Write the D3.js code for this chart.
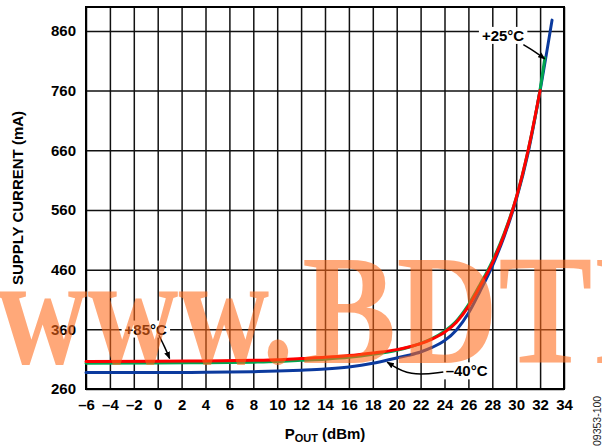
<!DOCTYPE html>
<html>
<head>
<meta charset="utf-8">
<script src="https://cdn.jsdelivr.net/npm/d3@7"></script>
<style>
  body { margin: 0; background: #fff; }
  svg { display: block; font-family: "Liberation Sans", Arial, sans-serif; }
</style>
</head>
<body>
<div class="chart"></div>
<script>
// x ticks (dBm) and y ticks (mA)
const xTicks = [-6, -4, -2, 0, 2, 4, 6, 8, 10, 12, 14, 16, 18, 20, 22, 24, 26, 28, 30, 32, 34];
const yTicks = [260, 360, 460, 560, 660, 760, 860];

// -40°C
const poutM40 = [-6, 0, 4, 8, 10, 12, 14, 16, 18, 20, 21, 22, 23, 24, 25, 26, 27, 28, 29, 30, 31, 32, 33];
const currM40 = [287.5, 287.5, 288, 289, 290, 291.5, 293.5, 297, 303, 312, 316.5, 322, 330, 341, 359, 387, 425, 466, 516, 577, 656, 760, 878];
// +25°C
const pout25 = [-6, 0, 4, 8, 10, 12, 14, 16, 18, 20, 21, 22, 23, 24, 25, 26, 27, 28, 29, 30, 31, 32, 32.4];
const curr25 = [303, 303.5, 304, 305, 306, 308, 310, 313, 318, 325, 330, 336.5, 345, 357, 374, 401, 436, 474, 521, 580, 660, 762, 815];
// +85°C
const pout85 = [-6, 0, 4, 8, 10, 12, 14, 16, 18, 20, 21, 22, 23, 24, 25, 26, 27, 28, 29, 30, 31, 32];
const curr85 = [306, 306.5, 307, 308, 309, 311, 313, 316, 320.5, 326, 330.5, 336, 344, 355, 372, 398, 433, 471, 519, 580, 660, 760];

const series = [
  {name: "-40", x: poutM40, y: currM40, color: "#0b3a9e"},
  {name: "25", x: pout25, y: curr25, color: "#00a650"},
  {name: "85", x: pout85, y: curr85, color: "#ff0000"}
];

const W = 602, H = 448;
const margin = {top: 7, right: 38, bottom: 59, left: 86};
const width = W - margin.left - margin.right;
const height = H - margin.top - margin.bottom;

const svg = d3.select(".chart").append("svg")
  .attr("width", W).attr("height", H);

const g = svg.append("g")
  .attr("transform", "translate(" + margin.left + "," + margin.top + ")");

const x = d3.scaleLinear().domain([-6, 34]).range([0, width]);
const y = d3.scaleLinear().domain([260, 900]).range([height, 0]);

// grid
g.append("g")
  .attr("transform", "translate(0," + height + ")")
  .call(d3.axisBottom(x).tickValues(xTicks).tickSize(-height).tickFormat(d => d < 0 ? "\u2013" + (-d) : d).tickPadding(10))
  .call(a => a.select(".domain").remove())
  .call(a => a.selectAll("line").attr("stroke", "#111").attr("stroke-width", 1.5))
  .call(a => a.selectAll("text").attr("fill", "#000").attr("font-size", 15).attr("font-weight", "bold"));

g.append("g")
  .call(d3.axisLeft(y).tickValues(yTicks).tickSize(-width).tickPadding(10))
  .call(a => a.select(".domain").remove())
  .call(a => a.selectAll("line").attr("stroke", "#111").attr("stroke-width", 1.5))
  .call(a => a.selectAll("text").attr("fill", "#000").attr("font-size", 15).attr("font-weight", "bold"));

g.append("rect")
  .attr("width", width).attr("height", height)
  .attr("fill", "none").attr("stroke", "#000").attr("stroke-width", 2);

// curves
const line = d3.line().curve(d3.curveMonotoneX);
series.forEach(s => {
  g.append("path")
    .datum(s.x.map((v, i) => [x(v), y(s.y[i])]))
    .attr("d", line)
    .attr("fill", "none")
    .attr("stroke", s.color)
    .attr("stroke-width", 3)
    .attr("stroke-linecap", "round");
});

// annotations
svg.append("defs").append("marker")
  .attr("id", "arr").attr("viewBox", "0 0 10 10")
  .attr("refX", 9).attr("refY", 5)
  .attr("markerWidth", 5).attr("markerHeight", 5)
  .attr("orient", "auto")
  .append("path").attr("d", "M0,1 L10,5 L0,9 Z").attr("fill", "#000");

function label(txt, dx, dy, anchor) {
  const bg = g.append("rect").attr("fill", "#fff");
  const t = g.append("text")
    .attr("x", x(dx)).attr("y", y(dy))
    .attr("dy", "0.35em")
    .attr("text-anchor", anchor)
    .attr("font-size", 15).attr("font-weight", "bold")
    .text(txt);
  const b = t.node().getBBox();
  bg.attr("x", b.x - 3).attr("y", b.y)
    .attr("width", b.width + 6).attr("height", b.height);
}
function arrow(pts) {
  g.append("path")
    .attr("d", d3.line().curve(d3.curveBasis)(pts.map(p => [x(p[0]), y(p[1])])))
    .attr("fill", "none").attr("stroke", "#000").attr("stroke-width", 1.5)
    .attr("marker-end", "url(#arr)");
}

label("+85\u00b0C", -1, 360, "middle");
arrow([[0.1, 350], [0.6, 330], [1.0, 311]]);

label("+25\u00b0C", 28.9, 852, "middle");
arrow([[30.6, 837], [31.6, 825], [32.4, 813]]);

label("\u201340\u00b0C", 24.1, 290, "start");
arrow([[23.9, 288.5], [21.1, 281], [19.2, 305]]);

// axis titles
svg.append("text")
  .attr("transform", "translate(23," + (margin.top + height / 2) + ") rotate(-90)")
  .attr("text-anchor", "middle")
  .attr("font-size", 15).attr("font-weight", "bold")
  .text("SUPPLY CURRENT (mA)");

const xt = svg.append("text")
  .attr("x", margin.left + x(14)).attr("y", 439)
  .attr("text-anchor", "middle")
  .attr("font-size", 15).attr("font-weight", "bold");
xt.append("tspan").text("P");
xt.append("tspan").attr("font-size", 11).attr("dy", 3).text("OUT");
xt.append("tspan").attr("dy", -3).text(" (dBm)");

svg.append("text")
  .attr("transform", "translate(601,446) rotate(-90)")
  .attr("font-size", 10.5).attr("fill", "#222")
  .text("09353-100");

// watermark
const wm = svg.append("g").attr("fill", "#ff6a1a").attr("opacity", 0.58)
  .attr("font-family", "'Liberation Serif', 'Times New Roman', serif")
  .attr("font-weight", "bold").attr("font-size", 157);
wm.append("text").attr("transform", "translate(-3,363) scale(0.8,1)").text("www.");
wm.append("text").attr("transform", "translate(302,363) scale(0.9,1)").text("BDTIC.com");
</script>
</body>
</html>
